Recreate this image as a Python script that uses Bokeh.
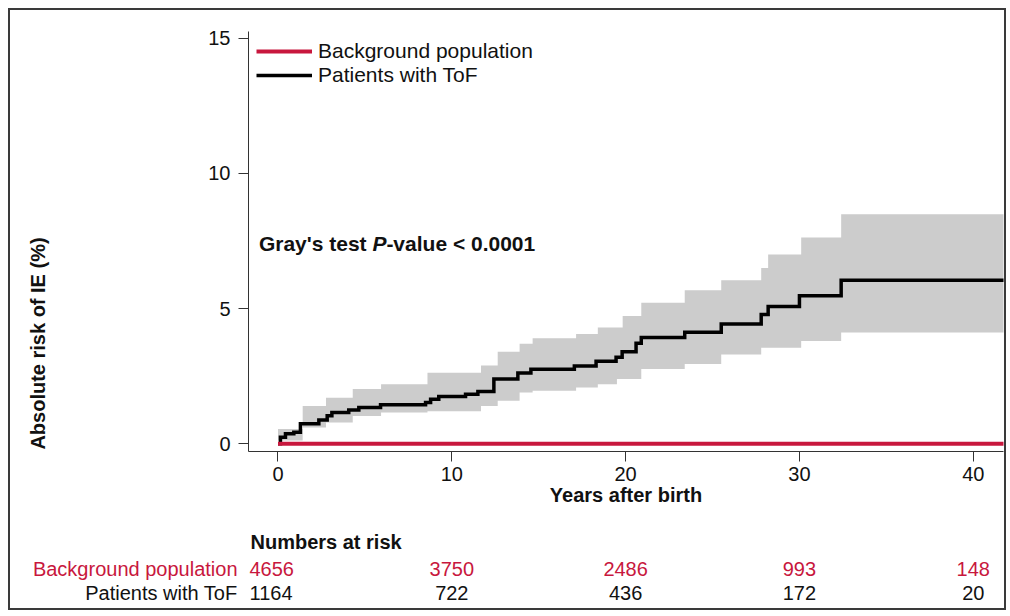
from bokeh.plotting import figure
from bokeh.models import (Range1d, Label, LabelSet, ColumnDataSource, Legend,
                          LegendItem, FixedTicker)
from bokeh.layouts import column, row
from bokeh.core.properties import value
from bokeh.embed import file_html
from bokeh.resources import INLINE

RED = "#c8173d"
FONT = "Liberation Sans"
AX = "#333333"
TXT = "#111111"

# ---- data ----
tof_t = [0, 0.14, 0.43, 0.91, 1.29, 2.35, 2.83, 3.1, 4.07, 4.65, 5.9, 8.49, 8.78,
         9.25, 10.79, 11.5, 12.42, 13.8, 14.55, 17.05, 18.3, 19.45, 19.8, 20.6,
         20.9, 23.4, 25.5, 27.8, 28.2, 30.0, 32.4, 41.8]
tof_v = [0, 0.24, 0.37, 0.43, 0.74, 0.88, 1.04, 1.16, 1.25, 1.34, 1.44, 1.53, 1.65,
         1.75, 1.83, 1.93, 2.40, 2.62, 2.76, 2.88, 3.05, 3.20, 3.40, 3.72,
         3.93, 4.13, 4.43, 4.78, 5.08, 5.48, 6.05, 6.05]

band_t = [0, 1.42, 2.76, 4.3, 5.93, 8.6, 11.68, 12.64, 13.9, 14.65, 17.15, 18.4,
          19.5, 19.83, 20.9, 23.4, 25.5, 27.8, 28.2, 30.1, 32.4, 41.8]
band_hi = [0.55, 1.4, 1.7, 2.03, 2.2, 2.63, 2.9, 3.4, 3.7, 3.9, 4.06, 4.3,
           4.3, 4.73, 5.22, 5.68, 6.05, 6.5, 7.0, 7.63, 8.49, 8.49]
band_lo = [0.12, 0.6, 0.79, 1.03, 1.16, 1.2, 1.4, 1.59, 1.9, 1.96, 2.08, 2.2,
           2.4, 2.4, 2.77, 2.95, 3.3, 3.55, 3.55, 3.8, 4.12, 4.12]

bg_t = [0, 41.8]
bg_v = [0, 0]

risk_times = [0, 10, 20, 30, 40]
risk_bg = ["4656", "3750", "2486", "993", "148"]
risk_tof = ["1164", "722", "436", "172", "20"]

x_ticks = [0, 10, 20, 30, 40]
y_ticks = [0, 5, 10, 15]

# ---- geometry (pixels) ----
W_TOTAL = 994          # inner width inside the border
H_MAIN = 508
H_TABLE = 90
W_YLAB = 60
FRAME_L = 178          # main frame left offset inside the main figure
FRAME_R = 1
X_START, X_END = -1.697, 41.74
PX_PER_YR = (W_TOTAL - W_YLAB - FRAME_L - FRAME_R) / (X_END - X_START)

# ---- y label strip ----
ylab = figure(width=W_YLAB, height=H_MAIN, output_backend="svg",
              toolbar_location=None, x_axis_type=None, y_axis_type=None,
              min_border=0, outline_line_color=None,
              x_range=Range1d(0, 1), y_range=Range1d(0, 1))
ylab.grid.visible = False
ylab.add_layout(Label(x=27, y=108, x_units="screen", y_units="screen",
                      text="Absolute risk of IE (%)", angle=1.5707963,
                      text_align="center", text_baseline="middle",
                      text_font=FONT, text_font_style="bold",
                      text_font_size="20px", text_color=TXT))

# ---- main figure ----
p = figure(width=W_TOTAL - W_YLAB, height=H_MAIN, output_backend="svg",
           toolbar_location=None,
           x_range=Range1d(X_START, X_END), y_range=Range1d(-0.285, 15.25),
           min_border_left=FRAME_L, min_border_right=FRAME_R, min_border_top=21,
           min_border_bottom=67, outline_line_color=None,
           background_fill_color="white", border_fill_color="white")
p.grid.visible = False

p.varea_step(x=band_t, y1=band_lo, y2=band_hi, step_mode="after",
             fill_color="#cccccc")
r_tof = p.step(tof_t, tof_v, mode="after", line_color="black", line_width=3.5,
               line_join="miter")
r_bg = p.line(bg_t, bg_v, line_color=RED, line_width=4)

for ax in (p.xaxis[0], p.yaxis[0]):
    ax.axis_line_color = AX
    ax.major_tick_line_color = AX
    ax.major_tick_out = 10
    ax.major_tick_in = 0
    ax.minor_tick_line_color = None
    ax.major_label_text_font = FONT
    ax.major_label_text_font_size = "20px"
    ax.major_label_text_color = TXT
p.xaxis.ticker = FixedTicker(ticks=x_ticks)
p.yaxis.ticker = FixedTicker(ticks=y_ticks)
p.xaxis.major_label_standoff = 5
p.yaxis.major_label_standoff = 8
p.xaxis.axis_label = "Years after birth"
p.xaxis.axis_label_text_font = FONT
p.xaxis.axis_label_text_font_style = "bold"
p.xaxis.axis_label_text_font_size = "20px"
p.xaxis.axis_label_text_color = TXT
p.xaxis.axis_label_standoff = 0

legend = Legend(items=[LegendItem(label="Background population", renderers=[r_bg]),
                       LegendItem(label="Patients with ToF", renderers=[r_tof])],
                location=(8, 364), glyph_width=56, glyph_height=24,
                label_height=24, label_standoff=6, spacing=0, padding=0,
                margin=0, border_line_color=None, background_fill_alpha=0,
                label_text_font=FONT, label_text_font_size="21px",
                label_text_color=TXT)
p.add_layout(legend)

gx, gy = -1.1, 7.42
common = dict(x_units="data", y_units="data", text_baseline="middle",
              text_font=FONT, text_font_size="21px", text_color=TXT)
p.add_layout(Label(x=gx, y=gy, text="Gray's test", text_font_style="bold", **common))
p.add_layout(Label(x=gx, y=gy, x_offset=113.5, text="P",
                   text_font_style="bold italic", **common))
p.add_layout(Label(x=gx, y=gy, x_offset=127.5, text="-value < 0.0001",
                   text_font_style="bold", **common))

# ---- numbers-at-risk table (same horizontal data mapping as main plot) ----
left_px = W_YLAB + FRAME_L          # main frame left inside the table strip
t_start = X_START - left_px / PX_PER_YR
t_end = t_start + W_TOTAL / PX_PER_YR
tab = figure(width=W_TOTAL, height=H_TABLE, output_backend="svg",
             toolbar_location=None, x_axis_type=None, y_axis_type=None,
             min_border=0, outline_line_color=None,
             x_range=Range1d(t_start, t_end), y_range=Range1d(0, H_TABLE))
tab.grid.visible = False

tab.add_layout(Label(x=X_START, y=67, x_units="data", y_units="data",
                     x_offset=2, text="Numbers at risk", text_baseline="middle",
                     text_font=FONT, text_font_style="bold",
                     text_font_size="20px", text_color=TXT))
rows_y = {"bg": 40, "tof": 16}
for txt, key, col in (("Background population", "bg", RED),
                      ("Patients with ToF", "tof", TXT)):
    tab.add_layout(Label(x=X_START, y=rows_y[key], x_offset=-11,
                         text=txt, text_align="right", text_baseline="middle",
                         text_font=FONT, text_font_size="20px", text_color=col))

first = ColumnDataSource(dict(t=[X_START], bg=risk_bg[:1], tof=risk_tof[:1]))
rest = ColumnDataSource(dict(t=risk_times[1:], bg=risk_bg[1:], tof=risk_tof[1:]))
for key, col in (("bg", RED), ("tof", TXT)):
    tab.add_layout(LabelSet(x="t", y=rows_y[key], y_units="data", text=key,
                            source=first, text_align="left", x_offset=1,
                            text_baseline="middle", text_font=value(FONT),
                            text_font_size=value("20px"), text_color=value(col)))
    tab.add_layout(LabelSet(x="t", y=rows_y[key], y_units="data", text=key,
                            source=rest, text_align="center",
                            text_baseline="middle", text_font=value(FONT),
                            text_font_size=value("20px"), text_color=value(col)))

layout = column(row(ylab, p), tab,
                styles={"border": "2px solid #3a3a3a", "margin": "8px 0 0 8px"})
open("out.html", "w").write(file_html(layout, INLINE))
